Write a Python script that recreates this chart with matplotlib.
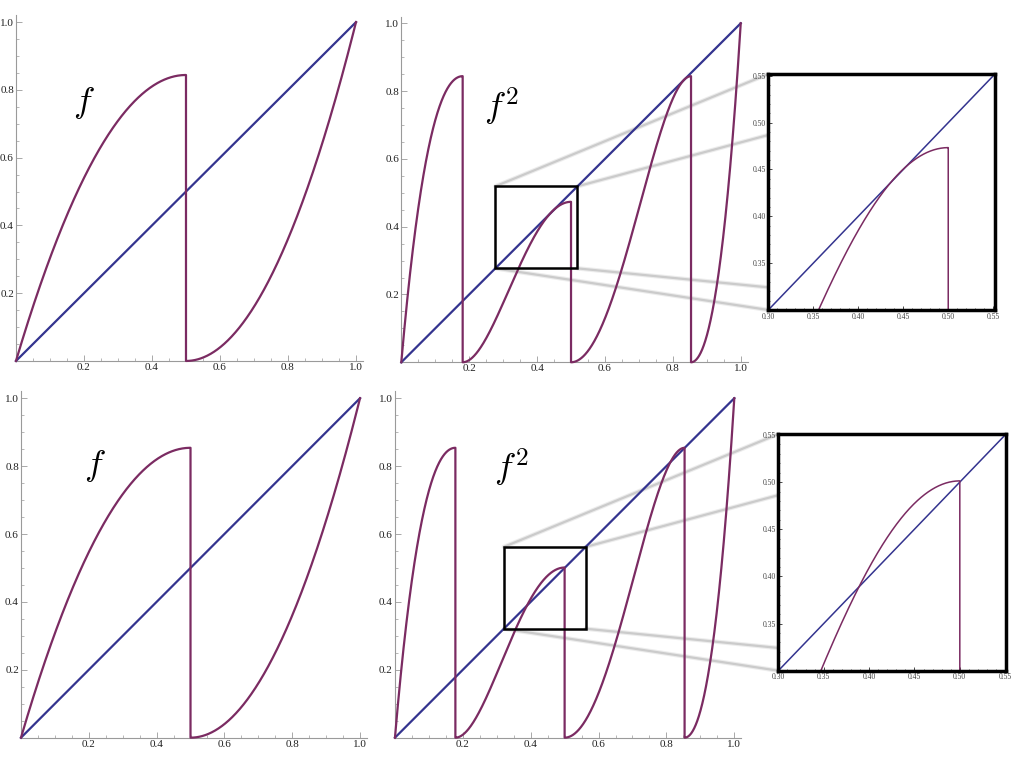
import numpy as np
import matplotlib
matplotlib.use("Agg")
import matplotlib.pyplot as plt
from matplotlib.patches import Rectangle, ConnectionPatch
from matplotlib.ticker import MultipleLocator, FixedLocator

plt.rcParams["font.family"] = ["Liberation Serif", "DejaVu Serif"]
plt.rcParams["mathtext.fontset"] = "cm"

# height of the left branch of f at x=0.5 (top row, bottom row)
peaks = [0.844, 0.854]
# square drawn on the f^2 plot (lo, hi) and the range shown in the inset
boxes = [(0.277, 0.519), (0.321, 0.562)]
inset_lims = [(0.30, 0.552), (0.30, 0.551)]
labels = ["$f$", "$f^2$"]
main_ticks = [0.2, 0.4, 0.6, 0.8, 1.0]
inset_ticks = [0.30, 0.35, 0.40, 0.45, 0.50, 0.55]
inset_yticks = [0.35, 0.40, 0.45, 0.50, 0.55]

curve_col = "#7b2b62"
diag_col = "#34348f"
axis_col = "#9a9a9a"


def f_left(x, a):
    return 4 * a * x * (1 - x)


def f_right(x):
    return (2 * x - 1) ** 2


def curve_f(a):
    x1 = np.linspace(0, 0.5, 400)
    x2 = np.linspace(0.5, 1, 400)
    return np.r_[x1, x2], np.r_[f_left(x1, a), f_right(x2)]


def curve_f2(a):
    c1 = (1 - np.sqrt(1 - 0.5 / a)) / 2
    c3 = (1 + np.sqrt(0.5)) / 2
    p1 = np.linspace(0, c1, 500)
    p2 = np.linspace(c1, 0.5, 500)
    p3 = np.linspace(0.5, c3, 500)
    p4 = np.linspace(c3, 1, 500)
    y1 = f_left(f_left(p1, a), a)
    y2 = f_right(f_left(p2, a))
    y3 = f_left(f_right(p3), a)
    y4 = f_right(f_right(p4))
    return np.r_[p1, p2, p3, p4], np.r_[y1, y2, y3, y4]


def style_main(ax):
    ax.set_xlim(0, 1.02)
    ax.set_ylim(0, 1.02)
    ax.set_facecolor("none")
    for s in ["top", "right"]:
        ax.spines[s].set_visible(False)
    for s in ["left", "bottom"]:
        ax.spines[s].set_color(axis_col)
        ax.spines[s].set_linewidth(0.8)
    ax.xaxis.set_major_locator(FixedLocator(main_ticks))
    ax.yaxis.set_major_locator(FixedLocator(main_ticks))
    ax.xaxis.set_minor_locator(MultipleLocator(0.05))
    ax.yaxis.set_minor_locator(MultipleLocator(0.05))
    ax.set_xticklabels([f"{t:.1f}" for t in main_ticks])
    ax.set_yticklabels([f"{t:.1f}" for t in main_ticks])
    ax.tick_params(which="major", direction="in", length=4, width=0.6,
                   color=axis_col, labelsize=8, labelcolor="#222222", pad=1.5)
    ax.tick_params(which="minor", direction="in", length=2, width=0.5,
                   color=axis_col)


def style_inset(ax, lims):
    ax.set_xlim(*lims)
    ax.set_ylim(*lims)
    ax.set_facecolor("white")
    for s in ax.spines.values():
        s.set_color("black")
        s.set_linewidth(2.5)
    ax.xaxis.set_major_locator(FixedLocator(inset_ticks))
    ax.yaxis.set_major_locator(FixedLocator(inset_yticks))
    ax.xaxis.set_minor_locator(MultipleLocator(0.01))
    ax.yaxis.set_minor_locator(MultipleLocator(0.01))
    ax.set_xticklabels([f"{t:.2f}" for t in inset_ticks])
    ax.set_yticklabels([f"{t:.2f}" for t in inset_yticks])
    ax.tick_params(which="major", direction="in", length=3, width=0.5,
                   labelsize=5.5, labelcolor="#444444", pad=2)
    ax.tick_params(which="minor", direction="in", length=1.5, width=0.4)


fig = plt.figure(figsize=(10.24, 7.68), dpi=100)

main_pos = [
    ([0.0156, 0.530, 0.3387, 0.450], [0.3919, 0.5283, 0.3381, 0.4502]),
    ([0.0205, 0.0395, 0.3377, 0.4508], [0.3857, 0.0395, 0.3380, 0.4508]),
]
inset_pos = [[0.7503, 0.5964, 0.2214, 0.3073], [0.7601, 0.1267, 0.2224, 0.3082]]
label_xy = [((0.20, 0.76), (0.296, 0.753)), ((0.218, 0.80), (0.344, 0.795))]

diag = np.array([0.0, 1.0])

for row in range(2):
    a = peaks[row]
    pos_f, pos_f2 = main_pos[row]

    ax1 = fig.add_axes(pos_f)
    style_main(ax1)
    xf, yf = curve_f(a)
    ax1.plot(diag, diag, color=diag_col, lw=1.6, clip_on=False, zorder=3)
    ax1.plot(xf, yf, color=curve_col, lw=1.6, clip_on=False, zorder=4)
    ax1.text(*label_xy[row][0], labels[0], fontsize=26, ha="center", va="center")

    ax2 = fig.add_axes(pos_f2)
    style_main(ax2)
    x2, y2 = curve_f2(a)
    ax2.plot(diag, diag, color=diag_col, lw=1.6, clip_on=False, zorder=3)
    ax2.plot(x2, y2, color=curve_col, lw=1.6, clip_on=False, zorder=4)
    ax2.text(*label_xy[row][1], labels[1], fontsize=26, ha="center", va="center")

    lo, hi = boxes[row]
    ax2.add_patch(Rectangle((lo, lo), hi - lo, hi - lo, fill=False,
                            ec="black", lw=1.8, zorder=5))

    ins = fig.add_axes(inset_pos[row], zorder=2)
    style_inset(ins, inset_lims[row])
    ins.plot(diag, diag, color=diag_col, lw=1.1)
    ins.plot(x2, y2, color=curve_col, lw=1.1)

    # grey connector lines from the square's corners to the inset's corners
    for cx, cy in [(0, 0), (1, 0), (0, 1), (1, 1)]:
        corner = (lo if cx == 0 else hi, lo if cy == 0 else hi)
        for lw, al in [(3.2, 0.25), (1.6, 0.6)]:
            con = ConnectionPatch(xyA=corner, coordsA=ax2.transData,
                                  xyB=(cx, cy), coordsB=ins.transAxes,
                                  color="#b5b5b5", lw=lw, alpha=al, zorder=-1)
            fig.add_artist(con)

fig.savefig("out.png", dpi=100)
